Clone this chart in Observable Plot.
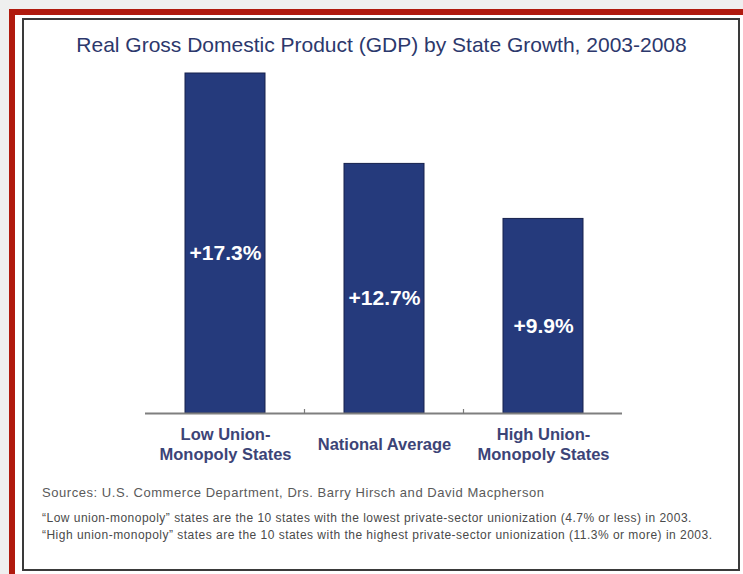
<!DOCTYPE html>
<html>
<head>
<meta charset="utf-8">
<script src="https://cdn.jsdelivr.net/npm/d3@7"></script>
<script src="https://cdn.jsdelivr.net/npm/@observablehq/plot@0.6"></script>
<style>
  html, body { margin: 0; padding: 0; width: 743px; height: 574px; overflow: hidden; background: #efefef; font-family: "Liberation Sans", Arial, sans-serif; }
  #red { position: absolute; left: 9px; top: 9px; width: 760px; height: 600px; border: 6px solid #b01a0e; background: #fff; }
  #frame { position: absolute; left: 22px; top: 18px; width: 714px; height: 549px; border: 2.5px solid #3a3a3a; background: #fff; }
  #title { position: absolute; left: 23px; width: 717px; top: 33px; text-align: center; font-size: 21px; color: #2c386c; line-height: 24px; }
  #chart { position: absolute; left: 0; top: 60px; }
  #source { position: absolute; left: 42px; top: 485px; font-size: 13px; color: #5a5a5a; white-space: nowrap; letter-spacing: 0.55px; }
  #notes { position: absolute; left: 42px; top: 510px; font-size: 12px; line-height: 17px; color: #4a4a4a; white-space: nowrap; letter-spacing: 0.48px; }
</style>
</head>
<body>
<div id="red"></div>
<div id="frame"></div>
<div id="title">Real Gross Domestic Product (GDP) by State Growth, 2003-2008</div>
<div id="chart"></div>
<div id="source">Sources: U.S. Commerce Department, Drs. Barry Hirsch and David Macpherson</div>
<div id="notes"></div>
<script>
const categories = ["Low Union-\nMonopoly States", "National Average", "High Union-\nMonopoly States"];
const values = [17.3, 12.7, 9.9];
const valueLabels = ["+17.3%", "+12.7%", "+9.9%"];
const noteLines = [
  "\u201CLow union-monopoly\u201D states are the 10 states with the lowest private-sector unionization (4.7% or less) in 2003.",
  "\u201CHigh union-monopoly\u201D states are the 10 states with the highest private-sector unionization (11.3% or more) in 2003."
];

const data = categories.map((c, i) => ({category: c, value: values[i], label: valueLabels[i]}));

function betweenTicks(index, scales) {
  const x = scales.x;
  const bw = typeof x.bandwidth === "function" ? x.bandwidth() : x.bandwidth;
  const step = x(categories[1]) - x(categories[0]);
  const y0 = scales.y(0);
  const g = d3.create("svg:g");
  for (let i = 0; i < categories.length - 1; i++) {
    const cx = x(categories[i]) + bw + (step - bw) / 2;
    g.append("line").attr("x1", cx).attr("x2", cx).attr("y1", y0 - 4).attr("y2", y0 + 1)
      .attr("stroke", "#7a7a7a").attr("stroke-width", 1.2);
  }
  return g.node();
}

const chart = Plot.plot({
  width: 743,
  height: 410,
  marginLeft: 145,
  marginRight: 121,
  marginTop: 13,
  marginBottom: 57,
  style: {fontFamily: "'Liberation Sans', Arial, sans-serif", background: "transparent", overflow: "visible"},
  x: {domain: categories, paddingInner: 0.5, paddingOuter: 0.25, axis: null},
  y: {domain: [0, 17.3], axis: null},
  marks: [
    Plot.barY(data, {x: "category", y: "value", fill: "#253a7c", stroke: "#16214d", strokeWidth: 1}),
    Plot.ruleY([0], {stroke: "#7f7f7f", strokeWidth: 2}),
    betweenTicks,
    Plot.text(data, {x: "category", y: d => d.value / 2, dy: 10, text: "label", fill: "white", fontSize: 21, fontWeight: "bold"}),
    Plot.text(data, {x: "category", y: 0, dy: 30, text: "category", lineAnchor: "middle", lineHeight: 1.2, fill: "#3c4477", fontSize: 16.5, fontWeight: "bold"})
  ]
});
document.getElementById("chart").appendChild(chart);
document.getElementById("notes").innerHTML = noteLines.join("<br>");
</script>
</body>
</html>
